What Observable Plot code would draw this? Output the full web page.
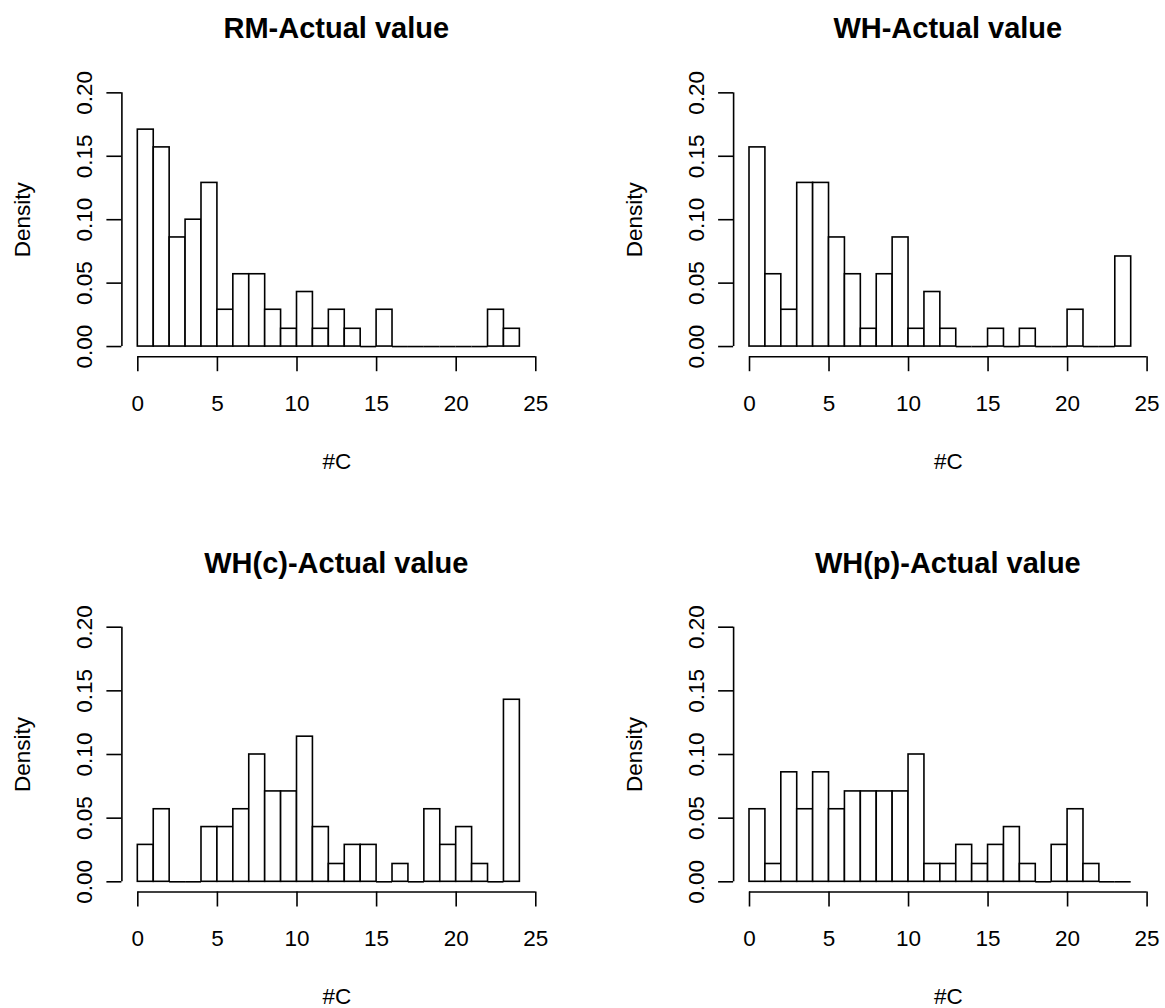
<!DOCTYPE html>
<html><head><meta charset="utf-8">
<script src="https://cdn.jsdelivr.net/npm/d3@7"></script>
<script src="https://cdn.jsdelivr.net/npm/@observablehq/plot@0.6"></script>
<style>
body{margin:0;background:#fff;}
#wrap{position:relative;width:1165px;height:1008px;overflow:hidden;background:#fff;font-family:"Liberation Sans",Arial,sans-serif;}
.panel{position:absolute;}
.title{position:absolute;font-weight:bold;font-size:29px;line-height:29px;color:#000;white-space:nowrap;transform:translateX(-50%);}
</style></head><body><div id="wrap"></div>
<script>
// Bin edges (width 1) and axis ticks
const binEdges = [0,1,2,3,4,5,6,7,8,9,10,11,12,13,14,15,16,17,18,19,20,21,22,23,24];
const xTicks = [0,5,10,15,20,25];
const yTicks = [0,0.05,0.1,0.15,0.2];
const xDomain = [-1, 26];
const yDomain = [-0.008, 0.208];
const xLabel = "#C";
const yLabel = "Density";
const titles = ["RM-Actual value", "WH-Actual value", "WH(c)-Actual value", "WH(p)-Actual value"];

// Densities (one per bin)
const rmDensity  = [0.171,0.157,0.086,0.1,0.129,0.029,0.057,0.057,0.029,0.014,0.043,0.014,0.029,0.014,0,0.029,0,0,0,0,0,0,0.029,0.014];
const whDensity  = [0.157,0.057,0.029,0.129,0.129,0.086,0.057,0.014,0.057,0.086,0.014,0.043,0.014,0,0,0.014,0,0.014,0,0,0.029,0,0,0.071];
const whcDensity = [0.029,0.057,0,0,0.043,0.043,0.057,0.1,0.071,0.071,0.114,0.043,0.014,0.029,0.029,0,0.014,0,0.057,0.029,0.043,0.014,0,0.143];
const whpDensity = [0.057,0.014,0.086,0.057,0.086,0.057,0.071,0.071,0.071,0.071,0.1,0.014,0.014,0.029,0.014,0.029,0.043,0.014,0,0.029,0.057,0.014,0,0];

const densities = [rmDensity, whDensity, whcDensity, whpDensity];

// Panel layout (page pixels)
const layout = [
  {left: 0,   top: 50,  width: 582, height: 423, mL: 121.4, mR: 30.8, mT: 32.2, mB: 116.8, titleTop: 14},
  {left: 582, top: 50,  width: 583, height: 423, mL: 151.1, mR: 2.5,  mT: 32.2, mB: 116.8, titleTop: 14},
  {left: 0,   top: 585, width: 582, height: 423, mL: 121.4, mR: 30.8, mT: 31.5, mB: 116.5, titleTop: 548.5},
  {left: 582, top: 585, width: 583, height: 423, mL: 151.1, mR: 2.5,  mT: 31.5, mB: 116.5, titleTop: 548.5}
];

const wrap = document.getElementById("wrap");
const lw = 1.6;

densities.forEach((dens, i) => {
  const L = layout[i];
  const bins = dens.map((d, k) => ({x0: binEdges[k], x1: binEdges[k + 1], density: d}));
  const nonZero = bins.filter(b => b.density > 0);
  const zero = bins.filter(b => b.density === 0);

  const chart = Plot.plot({
    width: L.width,
    height: L.height,
    marginLeft: L.mL,
    marginRight: L.mR,
    marginTop: L.mT,
    marginBottom: L.mB,
    style: {fontFamily: "'Liberation Sans', Arial, sans-serif", fontSize: "22.5px", background: "white", color: "black", overflow: "visible"},
    x: {domain: xDomain},
    y: {domain: yDomain},
    marks: [
      Plot.rectY(nonZero, {x1: "x0", x2: "x1", y: "density", fill: "white", stroke: "black", strokeWidth: lw}),
      Plot.ruleY(zero, {y: "density", x1: "x0", x2: "x1", stroke: "black", strokeWidth: lw}),
      // axis lines spanning the tick range (R style)
      Plot.ruleX([xDomain[0]], {y1: yTicks[0], y2: yTicks[yTicks.length - 1], stroke: "black", strokeWidth: lw}),
      Plot.ruleY([yDomain[0]], {x1: xTicks[0], x2: xTicks[xTicks.length - 1], stroke: "black", strokeWidth: lw}),
      Plot.axisX(xTicks, {anchor: "bottom", tickSize: 15, tickPadding: 23, strokeWidth: lw, fill: "black",
        label: xLabel, labelAnchor: "center", labelOffset: 112, labelArrow: "none"}),
      Plot.axisY(yTicks, {anchor: "left", tickSize: 15, tickPadding: 15, tickRotate: -90, strokeWidth: lw, fill: "black",
        tickFormat: d3.format(".2f"), label: yLabel, labelAnchor: "center", labelOffset: 108, labelArrow: "none"})
    ]
  });
  const div = document.createElement("div");
  div.className = "panel";
  div.style.left = L.left + "px";
  div.style.top = L.top + "px";
  div.appendChild(chart);
  wrap.appendChild(div);

  const t = document.createElement("div");
  t.className = "title";
  t.textContent = titles[i];
  const frameCenter = L.left + L.mL + (L.width - L.mL - L.mR) / 2;
  t.style.left = frameCenter + "px";
  t.style.top = L.titleTop + "px";
  wrap.appendChild(t);
});
</script>
</body></html>
